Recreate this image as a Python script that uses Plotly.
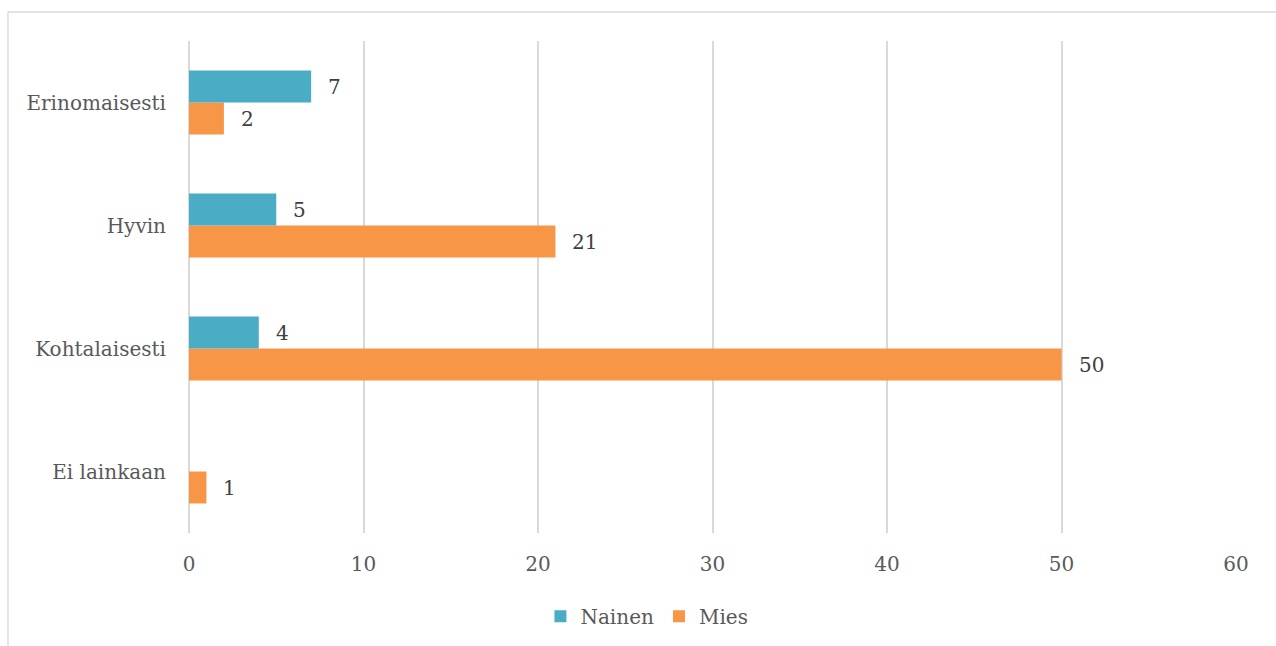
import plotly.graph_objects as go

# Survey answers per category, split by gender
categories = ["Ei lainkaan", "Kohtalaisesti", "Hyvin", "Erinomaisesti"]
nainen = [0, 4, 5, 7]
mies = [1, 50, 21, 2]

x_ticks = [0, 10, 20, 30, 40, 50, 60]

NAINEN_COLOR = "#4BACC6"
MIES_COLOR = "#F79646"
FONT = "DejaVu Serif"
FSIZE = 20

fig = go.Figure()

# Mies is added first so that Nainen sits above it in each group
fig.add_trace(go.Bar(
    y=categories, x=mies, name="Mies", orientation="h",
    marker=dict(color=MIES_COLOR, line=dict(width=0)),
    legendrank=2,
))
fig.add_trace(go.Bar(
    y=categories, x=nainen, name="Nainen", orientation="h",
    marker=dict(color=NAINEN_COLOR, line=dict(width=0)),
    legendrank=1,
))

# Value labels just right of each bar end (Nainen above, Mies below)
annotations = []
for series, shift in ((nainen, 16), (mies, -16)):
    for cat, val in zip(categories, series):
        if not val:
            continue
        annotations.append(dict(
            x=val, y=cat, xref="x", yref="y", text=str(val),
            showarrow=False, xanchor="left", yanchor="middle",
            xshift=15, yshift=shift,
            font=dict(family=FONT, size=FSIZE, color="#404040"),
        ))

fig.update_layout(
    width=1276, height=646,
    margin=dict(l=189, r=40, t=41, b=113),
    paper_bgcolor="white", plot_bgcolor="white",
    barmode="group", bargap=0.48, bargroupgap=0,
    font=dict(family=FONT, size=FSIZE, color="#595959"),
    xaxis=dict(
        range=[0, 60], tickvals=x_ticks, ticktext=[str(t) for t in x_ticks],
        showgrid=True, gridcolor="#D9D9D9", gridwidth=1.5,
        zeroline=True, zerolinecolor="#D9D9D9", zerolinewidth=1.5,
        showline=False, ticks="", ticklabelstandoff=17,
        tickfont=dict(family=FONT, size=FSIZE, color="#595959"),
    ),
    yaxis=dict(
        categoryorder="array", categoryarray=categories,
        showgrid=False, zeroline=False, showline=False, ticks="",
        ticklabelstandoff=22,
        tickfont=dict(family=FONT, size=FSIZE, color="#595959"),
    ),
    legend=dict(
        orientation="h", xref="container", yref="container",
        x=0.507, xanchor="center", y=0.046, yanchor="middle",
        font=dict(family=FONT, size=FSIZE, color="#595959"),
        itemwidth=30, tracegroupgap=0,
    ),
    showlegend=True,
    annotations=annotations,
    shapes=[dict(
        type="rect", xref="paper", yref="paper",
        x0=-0.1729, x1=1.2, y0=-0.3, y1=1.0589,
        line=dict(color="#D9D9D9", width=1.3), fillcolor="rgba(0,0,0,0)",
        layer="below",
    )],
)

fig.write_html("out.html")
